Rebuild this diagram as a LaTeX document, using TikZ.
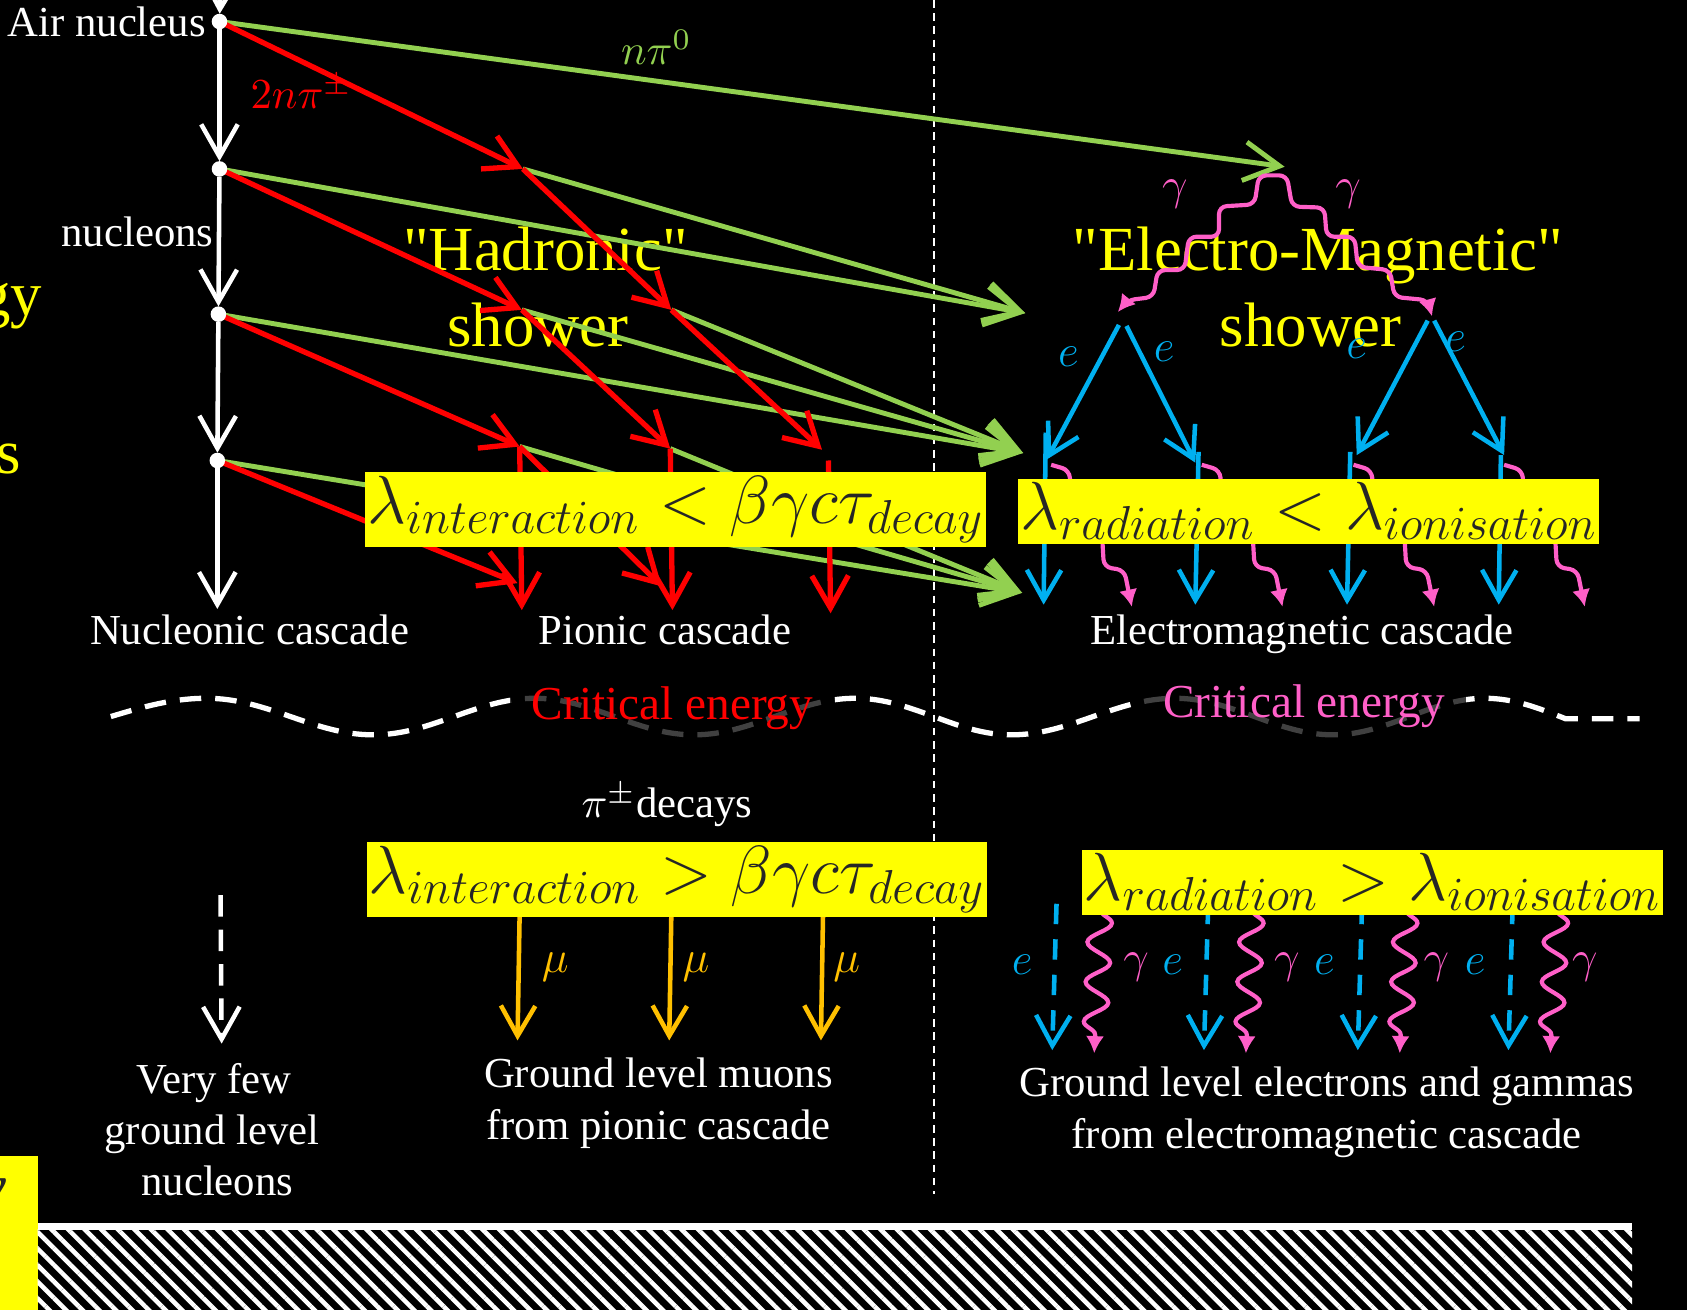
\documentclass[tikz,border=0pt]{standalone}
\usepackage{fix-cm}
\usepackage{fontspec}
\setmainfont{Liberation Serif}
\usepackage{tikz}
\usetikzlibrary{arrows.meta,decorations.pathmorphing,patterns.meta}
\pgfdeclarelayer{background}
\pgfdeclarelayer{edgelayer}
\pgfdeclarelayer{nodelayer}
\pgfsetlayers{background,edgelayer,nodelayer,main}
\definecolor{pionred}{HTML}{FF0000}
\definecolor{pizerogreen}{HTML}{92D050}
\definecolor{electronblue}{HTML}{00B0F0}
\definecolor{photonpink}{HTML}{FF5FC8}
\definecolor{muonorange}{HTML}{FFC000}
\definecolor{titleyellow}{HTML}{FFFF00}
\definecolor{conditiontext}{HTML}{262626}
\tikzstyle{none}=[inner sep=0pt]
\tikzstyle{vertex}=[circle, fill=white, draw=white, inner sep=0pt, minimum size=0.13cm]
\tikzstyle{whitetext}=[text=white, anchor=base, inner sep=0pt, font=\fontsize{11.3}{13}\selectfont]
\tikzstyle{titletext}=[text=titleyellow, anchor=base, inner sep=0pt, font=\fontsize{16.6}{19}\selectfont]
\tikzstyle{criticaltext}=[anchor=base, fill=black, fill opacity=0.75, text opacity=1, inner xsep=0.2cm, inner ysep=0.1cm, font=\fontsize{12.5}{14}\selectfont]
\tikzstyle{condition}=[fill=titleyellow, text=conditiontext, inner xsep=0.5pt, inner ysep=1pt, font=\fontsize{18}{20}\selectfont]
\tikzstyle{elabel}=[text=electronblue, inner sep=0pt, font=\fontsize{12}{14}\selectfont]
\tikzstyle{gammalabel}=[text=photonpink, inner sep=0pt, font=\fontsize{12}{14}\selectfont]
\tikzstyle{mulabel}=[text=muonorange, inner sep=0pt, font=\fontsize{12}{14}\selectfont]
\tikzstyle{nucleon}=[draw=white, line width=1.2pt, -{Straight Barb[length=3mm,width=3.4mm]}]
\tikzstyle{fewnucleon}=[nucleon, dash pattern=on 2mm off 1.2mm]
\tikzstyle{pion}=[draw=pionred, line width=1.4pt, -{Straight Barb[length=3mm,width=3.4mm]}]
\tikzstyle{neutral}=[draw=pizerogreen, line width=1.3pt, -{Straight Barb[length=3.3mm,width=3.6mm]}]
\tikzstyle{electron}=[draw=electronblue, line width=1.2pt, -{Straight Barb[length=2.8mm,width=3.2mm]}]
\tikzstyle{groundelectron}=[electron, dash pattern=on 1.9mm off 1.4mm]
\tikzstyle{muon}=[draw=muonorange, line width=1.2pt, -{Straight Barb[length=2.8mm,width=3.2mm]}]
\tikzstyle{photon}=[draw=photonpink, line width=1.1pt, rounded corners=2pt, -{Latex[length=1.6mm,width=1.7mm]}]
\tikzstyle{photonwave}=[draw=photonpink, line width=1.1pt, decorate, decoration={snake, amplitude=1.1mm, segment length=3.7mm, post length=1.5mm}, -{Latex[length=1.6mm,width=1.7mm]}]
\tikzstyle{divider}=[draw=white, line width=0.6pt, dash pattern=on 2pt off 1.5pt]
\tikzstyle{criticalline}=[draw=white, line width=1.4pt, dash pattern=on 2mm off 1.3mm]

\begin{document}
\begin{tikzpicture}
	\useasboundingbox (0, 0) rectangle (15.68, -12.18);
	\begin{pgfonlayer}{background}
		\fill [black] (0, 0) rectangle (15.68, -12.18);
		\node [style=titletext] (80) at (5.07, -2.51) {\textquotedbl Hadronic\textquotedbl};
		\node [style=titletext] (81) at (5.00, -3.22) {shower};
		\node [style=titletext] (82) at (12.25, -2.51) {\textquotedbl Electro-Magnetic\textquotedbl};
		\node [style=titletext] (83) at (12.18, -3.22) {shower};
		\node [style=titletext, anchor=base east] (84) at (0.40, -2.93) {gy};
		\node [style=titletext, anchor=base east] (85) at (0.20, -4.40) {s};
		\fill [titleyellow] (0, -10.74) rectangle (0.35, -12.18);
		\node [style=titletext, text=conditiontext, anchor=base east] (86) at (0.07, -11.22) {\itshape y};
		% ground level
		\fill [white] (0.35, -11.37) rectangle (15.17, -11.43);
		\fill [pattern={Lines[angle=-45,distance=3.1pt,line width=1.2pt]}, pattern color=white] (0.35, -11.43) rectangle (15.17, -12.18);
	\end{pgfonlayer}
	\begin{pgfonlayer}{nodelayer}
		\node [style=vertex] (0) at (2.04, -0.20) {};
		\node [style=vertex] (1) at (2.04, -1.57) {};
		\node [style=vertex] (2) at (2.03, -2.92) {};
		\node [style=vertex] (3) at (2.02, -4.28) {};
		\node [style=none] (4) at (2.02, -5.66) {};
		\node [style=none] (5) at (2.05, 0.15) {};
		\node [style=none] (6) at (4.86, -1.57) {};
		\node [style=none] (7) at (4.85, -2.88) {};
		\node [style=none] (8) at (4.83, -4.15) {};
		\node [style=none] (9) at (6.24, -2.88) {};
		\node [style=none] (10) at (6.23, -4.17) {};
		\node [style=none] (11) at (7.64, -4.18) {};
		\node [style=none] (12) at (4.81, -5.42) {};
		\node [style=none] (13) at (6.15, -5.45) {};
		\node [style=none] (14) at (4.85, -5.67) {};
		\node [style=none] (15) at (6.25, -5.67) {};
		\node [style=none] (16) at (7.72, -5.70) {};
		\node [style=none] (17) at (7.70, -4.28) {};
		\node [style=none] (18) at (11.94, -1.55) {};
		\node [style=none] (19) at (9.53, -2.91) {};
		\node [style=none] (20) at (9.51, -4.21) {};
		\node [style=none] (21) at (9.50, -5.51) {};
		\node [style=none] (22) at (11.83, -1.63) {};
		\node [style=none] (23) at (10.39, -2.90) {};
		\node [style=none] (24) at (13.31, -2.94) {};
		\node [style=none] (25) at (10.40, -3.02) {};
		\node [style=none] (26) at (10.47, -3.03) {};
		\node [style=none] (27) at (9.73, -4.27) {};
		\node [style=none] (28) at (11.11, -4.30) {};
		\node [style=none] (29) at (13.27, -2.98) {};
		\node [style=none] (30) at (13.33, -2.98) {};
		\node [style=none] (31) at (12.61, -4.23) {};
		\node [style=none] (32) at (13.98, -4.23) {};
		\node [style=none] (33) at (9.72, -4.02) {};
		\node [style=none] (34) at (11.14, -4.20) {};
		\node [style=none] (35) at (12.55, -4.20) {};
		\node [style=none] (36) at (13.95, -4.23) {};
		\node [style=none] (37) at (9.70, -5.62) {};
		\node [style=none] (38) at (11.11, -5.62) {};
		\node [style=none] (39) at (12.52, -5.62) {};
		\node [style=none] (40) at (13.93, -5.62) {};
		\node [style=none] (41) at (9.77, -4.32) {};
		\node [style=none] (42) at (11.17, -4.32) {};
		\node [style=none] (43) at (12.58, -4.32) {};
		\node [style=none] (44) at (13.98, -4.32) {};
		\node [style=none] (45) at (10.52, -5.64) {};
		\node [style=none] (46) at (11.92, -5.64) {};
		\node [style=none] (47) at (13.33, -5.64) {};
		\node [style=none] (48) at (14.73, -5.64) {};
		\node [style=none] (49) at (4.83, -8.48) {};
		\node [style=none] (50) at (6.24, -8.48) {};
		\node [style=none] (51) at (7.65, -8.48) {};
		\node [style=none] (52) at (4.81, -9.67) {};
		\node [style=none] (53) at (6.22, -9.67) {};
		\node [style=none] (54) at (7.63, -9.67) {};
		\node [style=none] (55) at (2.05, -8.32) {};
		\node [style=none] (56) at (2.06, -9.70) {};
		\node [style=none] (57) at (9.82, -8.40) {};
		\node [style=none] (58) at (11.23, -8.40) {};
		\node [style=none] (59) at (12.66, -8.40) {};
		\node [style=none] (60) at (14.06, -8.40) {};
		\node [style=none] (61) at (9.78, -9.76) {};
		\node [style=none] (62) at (11.19, -9.76) {};
		\node [style=none] (63) at (12.62, -9.76) {};
		\node [style=none] (64) at (14.02, -9.76) {};
		\node [style=none] (65) at (10.23, -8.46) {};
		\node [style=none] (66) at (11.64, -8.46) {};
		\node [style=none] (67) at (13.07, -8.46) {};
		\node [style=none] (68) at (14.47, -8.46) {};
		\node [style=none] (69) at (10.17, -9.79) {};
		\node [style=none] (70) at (11.58, -9.79) {};
		\node [style=none] (71) at (13.01, -9.79) {};
		\node [style=none] (72) at (14.41, -9.79) {};
		\node [style=none] (73) at (8.68, 0) {};
		\node [style=none] (74) at (8.68, -11.10) {};
		\node [style=whitetext, anchor=base east] (87) at (1.92, -0.34) {Air nucleus};
		\node [style=whitetext, anchor=base east] (88) at (1.99, -2.29) {nucleons};
		\node [style=whitetext] (89) at (2.32, -5.99) {Nucleonic cascade};
		\node [style=whitetext] (90) at (6.18, -5.99) {Pionic cascade};
		\node [style=whitetext] (91) at (12.10, -5.99) {Electromagnetic cascade};
		\node [style=whitetext] (92) at (6.20, -7.60) {$\pi^{\pm}$decays};
		\node [style=whitetext] (93) at (1.99, -10.16) {Very few};
		\node [style=whitetext] (94) at (1.97, -10.64) {ground level};
		\node [style=whitetext] (95) at (2.02, -11.11) {nucleons};
		\node [style=whitetext] (96) at (6.12, -10.11) {Ground level muons};
		\node [style=whitetext] (97) at (6.12, -10.59) {from pionic cascade};
		\node [style=whitetext] (98) at (12.33, -10.19) {Ground level electrons and gammas};
		\node [style=whitetext] (99) at (12.33, -10.67) {from electromagnetic cascade};
		\node [style=criticaltext, text=pionred] (100) at (6.25, -6.69) {Critical energy};
		\node [style=criticaltext, text=photonpink] (101) at (12.12, -6.67) {Critical energy};
		\node [style=condition] (102) at (6.28, -4.735) {$\lambda_{interaction} < \beta\gamma c\tau_{decay}$};
		\node [style=condition] (103) at (12.165, -4.75) {$\lambda_{radiation} < \lambda_{ionisation}$};
		\node [style=condition] (104) at (6.29, -8.175) {$\lambda_{interaction} > \beta\gamma c\tau_{decay}$};
		\node [style=condition] (105) at (12.755, -8.20) {$\lambda_{radiation} > \lambda_{ionisation}$};
		\node [style=whitetext, text=pizerogreen] (106) at (6.10, -0.60) {$n\pi^0$};
		\node [style=whitetext, text=pionred] (107) at (2.80, -1.01) {$2n\pi^{\pm}$};
		\node [style=gammalabel] (108) at (10.92, -1.80) {$\gamma$};
		\node [style=gammalabel] (109) at (12.53, -1.80) {$\gamma$};
		\node [style=elabel] (110) at (9.93, -3.32) {$e$};
		\node [style=elabel] (111) at (10.82, -3.27) {$e$};
		\node [style=elabel] (112) at (12.61, -3.24) {$e$};
		\node [style=elabel] (113) at (13.53, -3.18) {$e$};
		\node [style=mulabel] (114) at (5.16, -8.99) {$\mu$};
		\node [style=mulabel] (115) at (6.47, -8.99) {$\mu$};
		\node [style=mulabel] (116) at (7.87, -8.99) {$\mu$};
		\node [style=elabel] (117) at (9.50, -8.97) {$e$};
		\node [style=elabel] (118) at (10.90, -8.97) {$e$};
		\node [style=elabel] (119) at (12.31, -8.97) {$e$};
		\node [style=elabel] (120) at (13.71, -8.97) {$e$};
		\node [style=gammalabel] (121) at (10.56, -8.99) {$\gamma$};
		\node [style=gammalabel] (122) at (11.96, -8.99) {$\gamma$};
		\node [style=gammalabel] (123) at (13.35, -8.99) {$\gamma$};
		\node [style=gammalabel] (124) at (14.73, -8.99) {$\gamma$};
	\end{pgfonlayer}
	\begin{pgfonlayer}{edgelayer}
		\draw [style=divider] (73.center) to (74.center);
		% critical energy line
		\draw [style=criticalline] (1.03, -6.66) sin (1.92, -6.49) cos (2.70, -6.66) sin (3.47, -6.83) cos (4.22, -6.66) sin (4.97, -6.49) cos (5.71, -6.66) sin (6.45, -6.83) cos (7.20, -6.66) sin (7.95, -6.49) cos (8.68, -6.66) sin (9.40, -6.83) cos (10.16, -6.66) sin (10.92, -6.49) cos (11.66, -6.66) sin (12.39, -6.83) cos (13.10, -6.66) sin (13.80, -6.49) cos (14.55, -6.68) -- (15.24, -6.68);
		\draw [style=nucleon] (5.center) to (0);
		\draw [style=nucleon] (0) to (1);
		\draw [style=nucleon] (1) to (2);
		\draw [style=nucleon] (2) to (3);
		\draw [style=nucleon] (3) to (4.center);
		\draw [style=fewnucleon] (55.center) to (56.center);
		\draw [style=neutral] (0.center) to (18.center);
		\draw [style=neutral] (1.center) to (19.center);
		\draw [style=neutral] (6.center) to (19.center);
		\draw [style=neutral] (2.center) to (20.center);
		\draw [style=neutral] (7.center) to (20.center);
		\draw [style=neutral] (9.center) to (20.center);
		\draw [style=neutral] (3.center) to (21.center);
		\draw [style=neutral] (8.center) to (21.center);
		\draw [style=neutral] (10.center) to (21.center);
		\draw [style=pion] (0.center) to (6.center);
		\draw [style=pion] (1.center) to (7.center);
		\draw [style=pion] (2.center) to (8.center);
		\draw [style=pion] (3.center) to (12.center);
		\draw [style=pion] (6.center) to (9.center);
		\draw [style=pion] (7.center) to (10.center);
		\draw [style=pion] (8.center) to (13.center);
		\draw [style=pion] (9.center) to (11.center);
		\draw [style=pion] (8.center) to (14.center);
		\draw [style=pion] (10.center) to (15.center);
		\draw [style=pion] (17.center) to (16.center);
		\draw [style=photon] (22.center) -- ++(-0.13, 0) -- ++(-0.04, -0.27) -- ++(-0.33, -0.02) -- ++(0, -0.28) -- ++(-0.28, 0) -- ++(-0.04, -0.31) -- ++(-0.25, 0) -- ++(-0.04, -0.25) -- ++(-0.24, -0.03) -- (23.center);
		\draw [style=photon] (22.center) -- ++(0.13, 0) -- ++(0.05, -0.29) -- ++(0.30, -0.01) -- ++(0.02, -0.27) -- ++(0.26, 0) -- ++(0.03, -0.28) -- ++(0.30, -0.03) -- ++(0.04, -0.25) -- ++(0.31, -0.03) -- (24.center);
		\draw [style=electron] (25.center) to (27.center);
		\draw [style=electron] (26.center) to (28.center);
		\draw [style=electron] (29.center) to (31.center);
		\draw [style=electron] (30.center) to (32.center);
		\draw [style=electron] (33.center) to (37.center);
		\draw [style=electron] (34.center) to (38.center);
		\draw [style=electron] (35.center) to (39.center);
		\draw [style=electron] (36.center) to (40.center);
		\draw [style=photon] (41.center) -- ++(0.17, -0.05) -- ++(0.02, -0.35) -- ++(0.27, -0.02) -- ++(0.03, -0.53) -- ++(0.19, -0.03) -- ++(0.04, -0.20) -- (45.center);
		\draw [style=photon] (42.center) -- ++(0.17, -0.05) -- ++(0.02, -0.35) -- ++(0.27, -0.02) -- ++(0.03, -0.53) -- ++(0.19, -0.03) -- ++(0.04, -0.20) -- (46.center);
		\draw [style=photon] (43.center) -- ++(0.17, -0.05) -- ++(0.02, -0.35) -- ++(0.27, -0.02) -- ++(0.03, -0.53) -- ++(0.19, -0.03) -- ++(0.04, -0.20) -- (47.center);
		\draw [style=photon] (44.center) -- ++(0.17, -0.05) -- ++(0.02, -0.35) -- ++(0.27, -0.02) -- ++(0.03, -0.53) -- ++(0.19, -0.03) -- ++(0.04, -0.20) -- (48.center);
		\draw [style=muon] (49.center) to (52.center);
		\draw [style=muon] (50.center) to (53.center);
		\draw [style=muon] (51.center) to (54.center);
		\draw [style=groundelectron] (57.center) to (61.center);
		\draw [style=groundelectron] (58.center) to (62.center);
		\draw [style=groundelectron] (59.center) to (63.center);
		\draw [style=groundelectron] (60.center) to (64.center);
		\draw [style=photonwave] (65.center) to (69.center);
		\draw [style=photonwave] (66.center) to (70.center);
		\draw [style=photonwave] (67.center) to (71.center);
		\draw [style=photonwave] (68.center) to (72.center);
	\end{pgfonlayer}
\end{tikzpicture}
\end{document}
